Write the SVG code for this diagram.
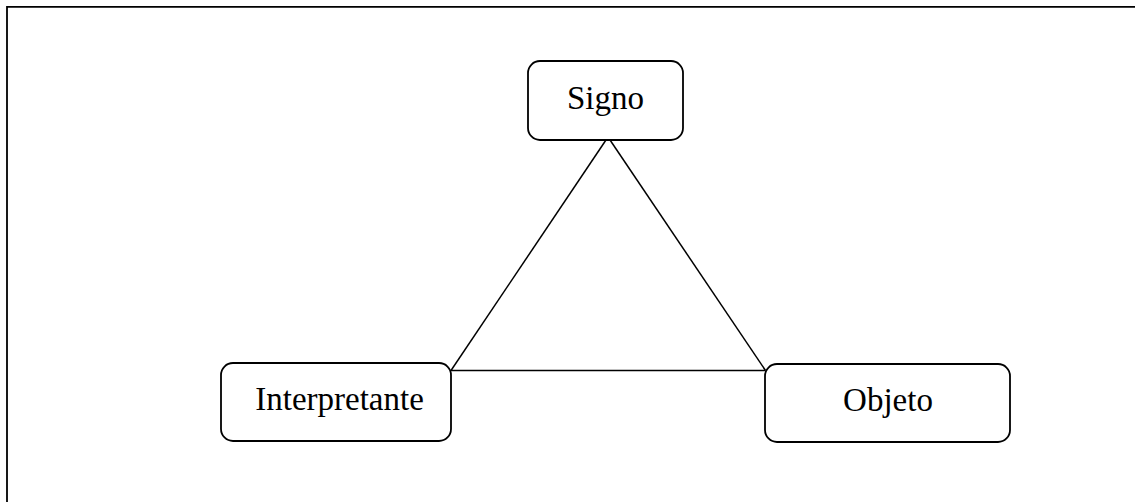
<svg xmlns="http://www.w3.org/2000/svg" width="1135" height="502" viewBox="0 0 1135 502">
<style>
.node rect{fill:#fff;stroke:#000;stroke-width:1.8}
.node text{font-family:"Liberation Serif","Times New Roman",serif;font-size:33px;fill:#000;text-anchor:middle}
.edges line{stroke:#000;stroke-width:1.5}
</style>
<rect width="1135" height="502" fill="#fff"/>
<path d="M7 502V6.8H1135" fill="none" stroke="#000" stroke-width="1.8"/>
<g class="edges">
<line x1="608" y1="137" x2="451" y2="370.5"/>
<line x1="608" y1="137" x2="765.5" y2="370.5"/>
<line x1="451" y1="370.5" x2="765.5" y2="370.5"/>
</g>
<g id="signo" class="node">
<rect x="528" y="61" width="155" height="79" rx="12"/>
<text x="605.5" y="109">Signo</text>
</g>
<g id="interpretante" class="node">
<rect x="221" y="363" width="230" height="78" rx="12"/>
<text x="339.5" y="410">Interpretante</text>
</g>
<g id="objeto" class="node">
<rect x="765" y="364" width="245" height="78" rx="12"/>
<text x="888" y="411">Objeto</text>
</g>
</svg>
